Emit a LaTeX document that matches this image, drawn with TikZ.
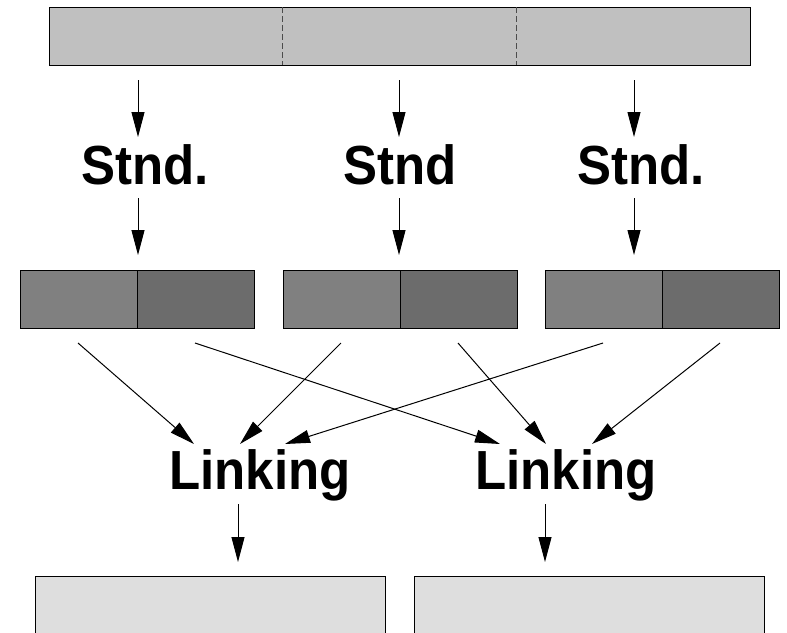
\documentclass[tikz,border=0pt]{standalone}
\usepackage{fontspec}
\setmainfont{Liberation Sans}
\usetikzlibrary{arrows.meta,calc}
\definecolor{barfill}{HTML}{C0C0C0}
\definecolor{midA}{HTML}{808080}
\definecolor{midB}{HTML}{6C6C6C}
\definecolor{botfill}{HTML}{DEDEDE}
\tikzset{
  boxstyle/.style={draw=black, line width=1pt, inner sep=0pt, outer sep=0pt},
  conn/.style={line width=1pt, -{Triangle[length=25pt,width=13pt]}},
  label/.style={inner sep=0pt, outer sep=0pt, anchor=base, font=\fontsize{51}{51}\selectfont\bfseries},
}
\newcommand{\tallt}[1]{\scalebox{1}[1.08]{#1}}
\begin{document}
\begin{tikzpicture}[x=1pt,y=-1pt]
\useasboundingbox (0,0) rectangle (787,632);
% top bar
\node[boxstyle, fill=barfill, minimum width=701pt, minimum height=58pt, anchor=north west] (bar) at (49,7) {};
\draw[dashed, dash pattern=on 6pt off 3pt, draw=black!70, line width=1pt]
  ($(bar.north west)!1/3!(bar.north east)$) -- ($(bar.south west)!1/3!(bar.south east)$)
  ($(bar.north west)!2/3!(bar.north east)$) -- ($(bar.south west)!2/3!(bar.south east)$);
% standardisation labels
\node[label] (s1) at (138,184) {\tallt{Stnd\rlap{.}}};
\node[label] (s2) at (400,184) {\tallt{Stnd}};
\node[label] (s3) at (634,184) {\tallt{Stnd\rlap{.}}};
% arrow end coordinates
\coordinate (a1s) at (138,80);  \coordinate (a1e) at (138,137);
\coordinate (a2s) at (399,80);  \coordinate (a2e) at (399,137);
\coordinate (a3s) at (634,80);  \coordinate (a3e) at (634,137);
\coordinate (b1s) at (138,198); \coordinate (b1e) at (138,255);
\coordinate (b2s) at (399,198); \coordinate (b2e) at (399,255);
\coordinate (b3s) at (634,198); \coordinate (b3e) at (634,255);
\draw[conn] (a1s) -- (a1e);
\draw[conn] (a2s) -- (a2e);
\draw[conn] (a3s) -- (a3e);
\draw[conn] (b1s) -- (b1e);
\draw[conn] (b2s) -- (b2e);
\draw[conn] (b3s) -- (b3e);
% middle split boxes
\foreach \i/\x in {1/20,2/283,3/545}{
  \node[boxstyle, fill=midA, minimum width=117pt, minimum height=58pt, anchor=north west] (m\i a) at (\x,270) {};
  \node[boxstyle, fill=midB, minimum width=117pt, minimum height=58pt, anchor=north west] (m\i b) at (m\i a.north east) {};
}
% linking labels
\node[label] (l1) at (260,489) {\tallt{Linking}};
\node[label] (l2) at (566,489) {\tallt{Linking}};
% cross connectors
\coordinate (c1) at (78,343);  \coordinate (c2) at (195,343);
\coordinate (c3) at (341,343); \coordinate (c4) at (458,343);
\coordinate (c5) at (603,343); \coordinate (c6) at (720,343);
\coordinate (t1a) at (194,444); \coordinate (t1b) at (240,444); \coordinate (t1c) at (285,444);
\coordinate (t2a) at (500,444); \coordinate (t2b) at (546,444); \coordinate (t2c) at (592,444);
\draw[conn] (c1) -- (t1a);
\draw[conn] (c2) -- (t2a);
\draw[conn] (c3) -- (t1b);
\draw[conn] (c4) -- (t2b);
\draw[conn] (c5) -- (t1c);
\draw[conn] (c6) -- (t2c);
% bottom arrows
\coordinate (d1s) at (238,504); \coordinate (d1e) at (238,562);
\coordinate (d2s) at (545,504); \coordinate (d2e) at (545,562);
\draw[conn] (d1s) -- (d1e);
\draw[conn] (d2s) -- (d2e);
% bottom boxes (cut off by the page)
\node[boxstyle, fill=botfill, minimum width=350pt, minimum height=80pt, anchor=north west] (o1) at (35,576) {};
\node[boxstyle, fill=botfill, minimum width=350pt, minimum height=80pt, anchor=north west] (o2) at (414,576) {};
\end{tikzpicture}
\end{document}
